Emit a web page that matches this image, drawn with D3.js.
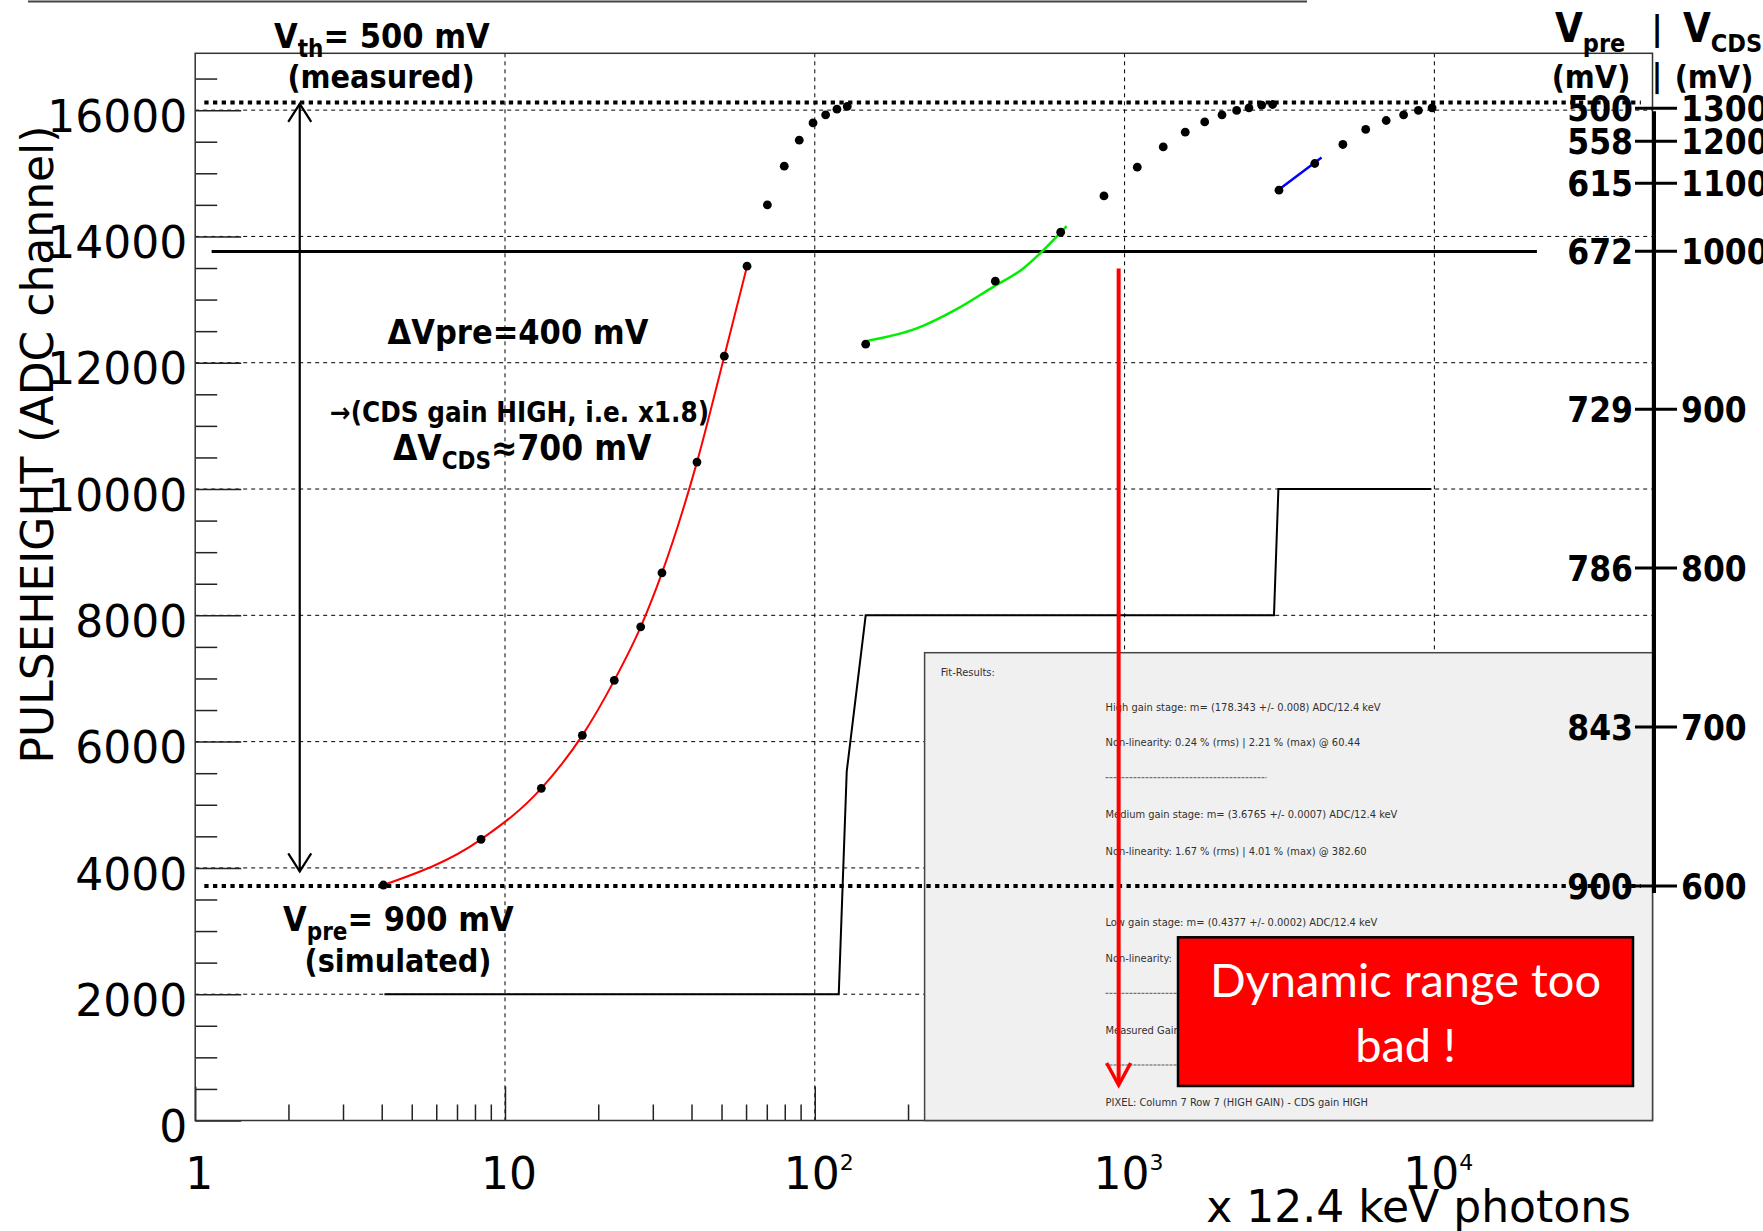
<!DOCTYPE html>
<html><head><meta charset="utf-8">
<script src="https://cdn.jsdelivr.net/npm/d3@7"></script>
<style>html,body{margin:0;padding:0;background:#fff}svg{display:block}</style>
</head><body>
<svg id="chart" width="1763" height="1231"></svg>
<script>
// ---------- data ----------
const highGainX = [4.05, 8.37, 13.10, 17.77, 22.53, 27.42, 32.12, 41.66, 51.05, 60.44];
const highGainY = [3729, 4452, 5260, 6099, 6970, 7818, 8673, 10426, 12104, 13529];
const satHighX = [70.3, 79.7, 89.1, 98.7, 108.4, 117.9, 127.3];
const satHighY = [14500, 15112, 15524, 15798, 15925, 16015, 16058];
const medGainX = [146.0, 382.6, 622];
const medGainY = [12294, 13292, 14068];
const medFitX = [147.7, 213.3, 287.1, 376.9, 471, 533.3, 650.3];
const medFitY = [12346, 12543, 12848, 13202, 13493, 13730, 14163];
const satMedX = [858, 1099, 1333, 1570, 1814, 2063, 2300, 2521, 2771, 3006];
const satMedY = [14642, 15097, 15418, 15651, 15814, 15925, 15995, 16036, 16078, 16089];
const lowGainX = [3151, 4111];
const lowGainY = [14732, 15155];
const lowFitX = [3182, 4325];
const lowFitY = [14760, 15250];
const satLowX = [5067, 6004, 6990, 7956, 8880, 9831];
const satLowY = [15456, 15694, 15836, 15925, 15995, 16036];
const stepX = [4.08, 119.5, 126.8, 146, 3036, 3137, 9777];
const stepY = [2000, 2000, 5527, 8000, 8000, 10000, 10000];

const xMajorTicks = [1, 10, 100, 1000, 10000];
const xTickExp = ["", "", "2", "3", "4"];
const xTickBase = ["1", "10", "10", "10", "10"];
const xMinorTicks = [2,3,4,5,6,7,8,9,20,30,40,50,60,70,80,90,200,300,400,500,600,700,800,900,
                     2000,3000,4000,5000,6000,7000,8000,9000,20000,30000,40000,50000];
const yMajorTicks = [0, 2000, 4000, 6000, 8000, 10000, 12000, 14000, 16000];
const yMinorTicks = [500,1000,1500,2500,3000,3500,4500,5000,5500,6500,7000,7500,8500,9000,9500,
                     10500,11000,11500,12500,13000,13500,14500,15000,15500,16500];

const vpreLabels = ["500", "558", "615", "672", "729", "786", "843", "900"];
const vcdsLabels = ["1300", "1200", "1100", "1000", "900", "800", "700", "600"];
const vAxisADC = [16031, 15509, 14844, 13767, 11265, 8748, 6230, 3713];

const upperDottedADC = 16120, lowerDottedADC = 3713, dottedFromX = 1.07, dottedToX = 46400;
const solidADC = 13762, solidFromX = 1.13, solidToX = 21430;
const doubleArrowX = 2.175, doubleArrowTop = 16100, doubleArrowBottom = 3945;
const redArrowX = 957, redArrowTop = 13493, redArrowBottom = 562;

const fitLines = [
  ["Fit-Results:", 0],
  ["High gain stage: m= (178.343 +/- 0.008) ADC/12.4 keV", 1],
  ["Non-linearity: 0.24 % (rms) | 2.21 % (max) @ 60.44", 1],
  ["Medium gain stage: m= (3.6765 +/- 0.0007) ADC/12.4 keV", 1],
  ["Non-linearity: 1.67 % (rms) | 4.01 % (max) @ 382.60", 1],
  ["Low gain stage: m= (0.4377 +/- 0.0002) ADC/12.4 keV", 1],
  ["Non-linearity:", 1],
  ["Measured Gain", 1],
  ["PIXEL: Column 7 Row 7 (HIGH GAIN) - CDS gain HIGH", 1]
];
const fitLineY = [675.5, 710.5, 745.5, 818, 854.5, 926, 962, 1034, 1105.5];
const fitSepY = [777.7, 993.3, 1065];

// ---------- layout ----------
const L = 195.2, R = 1652.5, T = 53.3, B = 1120.5;
const x = d3.scaleLog().domain([1, 50600]).range([L, R]);
const y = d3.scaleLinear().domain([0, 16900]).range([B, T]);

const svg = d3.select("#chart");
svg.append("rect").attr("width", 1763).attr("height", 1231).attr("fill", "#fff");
svg.append("line").attr("x1", 28).attr("x2", 1307).attr("y1", 1.5).attr("y2", 1.5)
  .attr("stroke", "#444").attr("stroke-width", 2);

// grid
const grid = svg.append("g").attr("stroke", "#000").attr("stroke-width", 1).attr("stroke-dasharray", "4,4");
grid.selectAll(".gx").data(xMajorTicks.slice(1)).join("line")
  .attr("x1", d => x(d)).attr("x2", d => x(d)).attr("y1", T).attr("y2", B);
grid.selectAll(".gy").data(yMajorTicks.slice(1)).join("line")
  .attr("x1", L).attr("x2", R).attr("y1", d => y(d)).attr("y2", d => y(d));

// axes
function styleAxis(g) {
  g.select(".domain").remove();
  g.selectAll(".tick line").attr("stroke", "#222").attr("stroke-width", 1.5);
}
svg.append("g").attr("transform", `translate(${L},0)`)
  .call(d3.axisLeft(y).tickValues(yMinorTicks).tickSize(-22).tickFormat(""))
  .call(styleAxis);
const yAx = svg.append("g").attr("transform", `translate(${L},0)`)
  .call(d3.axisLeft(y).tickValues(yMajorTicks).tickSize(-46).tickPadding(8).tickFormat(d3.format("d")))
  .call(styleAxis);
yAx.selectAll(".tick text").attr("font-family", "DejaVu Sans").attr("font-size", 44)
  .attr("fill", "#000").attr("dy", "0.48em");
svg.append("g").attr("transform", `translate(0,${B})`)
  .call(d3.axisBottom(x).tickValues(xMinorTicks).tickSize(-16).tickFormat(""))
  .call(styleAxis);
svg.append("g").attr("transform", `translate(0,${B})`)
  .call(d3.axisBottom(x).tickValues(xMajorTicks).tickSize(-34).tickFormat(""))
  .call(styleAxis);

// x tick labels
const xl = svg.append("g").attr("font-family", "DejaVu Sans").attr("fill", "#000");
xMajorTicks.forEach((d, i) => {
  const t = xl.append("text").attr("x", x(d) + 4).attr("y", 1189).attr("text-anchor", "middle").attr("font-size", 44);
  t.append("tspan").text(xTickBase[i]);
  if (xTickExp[i]) t.append("tspan").attr("font-size", 22).attr("dy", -19).text(xTickExp[i]);
});

// frame
svg.append("rect").attr("x", L).attr("y", T).attr("width", R - L).attr("height", B - T)
  .attr("fill", "none").attr("stroke", "#333").attr("stroke-width", 1.5);

// axis titles
svg.append("text").attr("transform", `translate(53,444.5) rotate(-90)`).attr("text-anchor", "middle")
  .attr("font-family", "DejaVu Sans").attr("font-size", 44).text("PULSEHEIGHT (ADC channel)");
svg.append("text").attr("x", 1631).attr("y", 1222).attr("text-anchor", "end")
  .attr("font-family", "DejaVu Sans").attr("font-size", 44).text("x 12.4 keV photons");

// staircase (measured gain)
const line = d3.line().x(d => x(d[0])).y(d => y(d[1]));
svg.append("path").datum(d3.zip(stepX, stepY)).attr("d", line)
  .attr("fill", "none").attr("stroke", "#000").attr("stroke-width", 2);

// solid and dotted level lines
svg.append("line").attr("x1", x(solidFromX)).attr("x2", x(solidToX))
  .attr("y1", y(solidADC)).attr("y2", y(solidADC)).attr("stroke", "#000").attr("stroke-width", 3);
function dotted(adc) {
  svg.append("line").attr("x1", x(dottedFromX)).attr("x2", x(dottedToX))
    .attr("y1", y(adc)).attr("y2", y(adc)).attr("stroke", "#000").attr("stroke-width", 4)
    .attr("stroke-dasharray", "4.3,4.4");
}
dotted(upperDottedADC);

// fits
const curve = d3.line().x(d => x(d[0])).y(d => y(d[1])).curve(d3.curveMonotoneX);
svg.append("path").datum(d3.zip(highGainX, highGainY)).attr("d", curve)
  .attr("fill", "none").attr("stroke", "#ff0000").attr("stroke-width", 2);
svg.append("path").datum(d3.zip(medFitX, medFitY)).attr("d", curve)
  .attr("fill", "none").attr("stroke", "#00ee00").attr("stroke-width", 2.5);
svg.append("path").datum(d3.zip(lowFitX, lowFitY)).attr("d", line)
  .attr("fill", "none").attr("stroke", "#0000ff").attr("stroke-width", 2.5);

// points
const pts = [].concat(
  d3.zip(highGainX, highGainY), d3.zip(satHighX, satHighY),
  d3.zip(medGainX, medGainY), d3.zip(satMedX, satMedY),
  d3.zip(lowGainX, lowGainY), d3.zip(satLowX, satLowY));
svg.append("g").selectAll("circle").data(pts).join("circle")
  .attr("cx", d => x(d[0])).attr("cy", d => y(d[1])).attr("r", 4.4).attr("fill", "#000");

// fit-results box
const bx0 = 924.6, by0 = 652.7;
svg.append("rect").attr("x", bx0).attr("y", by0).attr("width", R - bx0).attr("height", B - by0)
  .attr("fill", "#f0f0f0").attr("stroke", "#444").attr("stroke-width", 1.5);
const ft = svg.append("g").attr("font-family", "DejaVu Sans Condensed").attr("font-size", 11).attr("fill", "#303030");
fitLines.forEach((d, i) => {
  ft.append("text").attr("x", d[1] ? 1105.5 : 940.7).attr("y", fitLineY[i]).text(d[0]);
});
fitSepY.forEach(v => ft.append("line").attr("x1", 1105.5).attr("x2", 1266.6).attr("y1", v).attr("y2", v)
  .attr("stroke", "#555").attr("stroke-width", 1).attr("stroke-dasharray", "3,1"));

dotted(lowerDottedADC);

// red box
svg.append("rect").attr("x", 1178).attr("y", 937.3).attr("width", 455).attr("height", 148.7)
  .attr("fill", "#ff0000").attr("stroke", "#000").attr("stroke-width", 2.5);
const rt = svg.append("g").attr("font-family", "Lato").attr("font-size", 47).attr("fill", "#fff").attr("text-anchor", "middle");
rt.append("text").attr("x", 1405.5).attr("y", 996.7).text("Dynamic range too");
rt.append("text").attr("x", 1405.5).attr("y", 1061.7).text("bad !");

// red arrow
const rax = x(redArrowX), rat = y(redArrowTop), rab = y(redArrowBottom);
svg.append("line").attr("x1", rax).attr("x2", rax).attr("y1", rat).attr("y2", rab - 2)
  .attr("stroke", "#ff0000").attr("stroke-width", 4);
svg.append("polyline").attr("points", `${rax - 12},${rab - 22} ${rax},${rab} ${rax + 12},${rab - 22}`)
  .attr("fill", "none").attr("stroke", "#ff0000").attr("stroke-width", 3.5);

// double arrow
const dax = x(doubleArrowX), dat = y(doubleArrowTop), dab = y(doubleArrowBottom);
svg.append("line").attr("x1", dax).attr("x2", dax).attr("y1", dat).attr("y2", dab)
  .attr("stroke", "#000").attr("stroke-width", 2.2);
svg.append("polyline").attr("points", `${dax - 11.5},${dat + 18} ${dax},${dat} ${dax + 11.5},${dat + 18}`)
  .attr("fill", "none").attr("stroke", "#000").attr("stroke-width", 2.2);
svg.append("polyline").attr("points", `${dax - 11.5},${dab - 18} ${dax},${dab} ${dax + 11.5},${dab - 18}`)
  .attr("fill", "none").attr("stroke", "#000").attr("stroke-width", 2.2);

// annotations
const an = svg.append("g").attr("font-family", "DejaVu Sans Condensed").attr("font-weight", "bold").attr("fill", "#000");
let t;
t = an.append("text").attr("x", 274).attr("y", 48).attr("font-size", 34);
t.append("tspan").text("V");
t.append("tspan").attr("font-size", 24).attr("dy", 9).text("th");
t.append("tspan").attr("dy", -9).text("= 500 mV");
an.append("text").attr("x", 381).attr("y", 88).attr("text-anchor", "middle").attr("font-size", 32).text("(measured)");
an.append("text").attr("x", 518).attr("y", 344).attr("text-anchor", "middle").attr("font-size", 34).text("ΔVpre=400 mV");
an.append("text").attr("x", 519.5).attr("y", 421.7).attr("text-anchor", "middle").attr("font-size", 27.5)
  .text("→(CDS gain HIGH, i.e. x1.8)");
t = an.append("text").attr("x", 393).attr("y", 460).attr("font-size", 35);
t.append("tspan").text("ΔV");
t.append("tspan").attr("font-size", 24).attr("dy", 9).text("CDS");
t.append("tspan").attr("dy", -9).text("≈700 mV");
t = an.append("text").attr("x", 283).attr("y", 931).attr("font-size", 34);
t.append("tspan").text("V");
t.append("tspan").attr("font-size", 24).attr("dy", 9).text("pre");
t.append("tspan").attr("dy", -9).text("= 900 mV");
an.append("text").attr("x", 398).attr("y", 972).attr("text-anchor", "middle").attr("font-size", 32).text("(simulated)");

// right header
t = an.append("text").attr("x", 1555).attr("y", 41.7).attr("font-size", 40);
t.append("tspan").text("V");
t.append("tspan").attr("font-size", 25).attr("dy", 10).text("pre");
an.append("text").attr("x", 1657).attr("y", 40).attr("text-anchor", "middle").attr("font-size", 34).text("|");
t = an.append("text").attr("x", 1683).attr("y", 41.7).attr("font-size", 40);
t.append("tspan").text("V");
t.append("tspan").attr("font-size", 25).attr("dy", 10).text("CDS");
an.append("text").attr("x", 1591).attr("y", 88).attr("text-anchor", "middle").attr("font-size", 32).text("(mV)");
an.append("text").attr("x", 1657).attr("y", 86).attr("text-anchor", "middle").attr("font-size", 32).text("|");
an.append("text").attr("x", 1714).attr("y", 88).attr("text-anchor", "middle").attr("font-size", 32).text("(mV)");

// right Vpre | Vcds axis
const ax = 1654;
svg.append("line").attr("x1", ax).attr("x2", ax).attr("y1", y(vAxisADC[0]) + 3).attr("y2", y(vAxisADC[7]) + 7)
  .attr("stroke", "#000").attr("stroke-width", 4);
const rg = svg.append("g");
rg.selectAll("line").data(vAxisADC).join("line")
  .attr("x1", 1635).attr("x2", 1677).attr("y1", d => y(d)).attr("y2", d => y(d))
  .attr("stroke", "#000").attr("stroke-width", 3);
rg.selectAll(".vl").data(vAxisADC).join("text").attr("class", "vl")
  .attr("x", 1633).attr("y", d => y(d)).attr("dy", "0.36em").attr("text-anchor", "end")
  .attr("font-family", "DejaVu Sans Condensed").attr("font-weight", "bold").attr("font-size", 35)
  .text((d, i) => vpreLabels[i]);
rg.selectAll(".vr").data(vAxisADC).join("text").attr("class", "vr")
  .attr("x", 1681).attr("y", d => y(d)).attr("dy", "0.36em").attr("text-anchor", "start")
  .attr("font-family", "DejaVu Sans Condensed").attr("font-weight", "bold").attr("font-size", 35)
  .text((d, i) => vcdsLabels[i]);
</script>
</body></html>
